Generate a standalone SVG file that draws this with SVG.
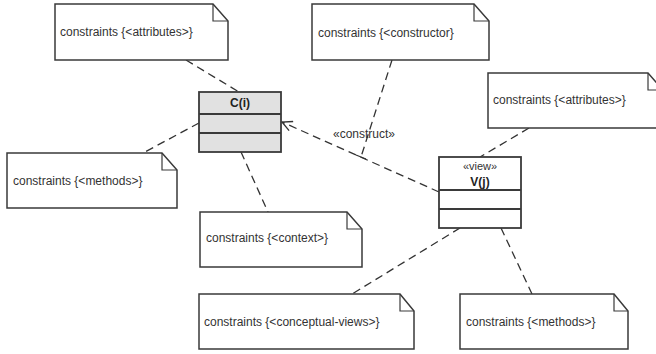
<svg xmlns="http://www.w3.org/2000/svg" width="656" height="354" viewBox="0 0 656 354">
  <style>
    .note { fill: #ffffff; stroke: #3a3a3a; stroke-width: 1.5; stroke-linejoin: miter; }
    .fold { fill: none; stroke: #3a3a3a; stroke-width: 1.2; }
    .box { stroke: #3a3a3a; stroke-width: 1.8; }
    .div { stroke: #3a3a3a; stroke-width: 1.8; }
    .txt { font-family: "Liberation Sans", Arial, sans-serif; font-size: 12px; fill: #333333; }
    .title { font-family: "Liberation Sans", Arial, sans-serif; font-size: 12px; font-weight: bold; fill: #222222; text-anchor: middle; }
    .stereo { font-family: "Liberation Sans", Arial, sans-serif; font-size: 11px; fill: #333333; text-anchor: middle; }
    .link { fill: none; stroke: #333333; stroke-width: 1.3; stroke-dasharray: 8 5; }
  </style>
  <defs>
    <marker id="openArrow" viewBox="0 0 12 12" refX="11" refY="6" markerWidth="12" markerHeight="12" markerUnits="userSpaceOnUse" orient="auto">
      <path d="M1,1 L11,6 L1,11" fill="none" stroke="#333333" stroke-width="1.3"/>
    </marker>
  </defs>

  <rect width="656" height="354" fill="#ffffff"/>

  <!-- connectors -->
  <g id="connectors">
    <line class="link" x1="186" y1="60" x2="239" y2="92"/>
    <line class="link" x1="199" y1="123" x2="143" y2="153"/>
    <line class="link" x1="241" y1="152" x2="268" y2="212"/>
    <line class="link" x1="439" y1="192" x2="282" y2="122" marker-end="url(#openArrow)"/>
    <line class="link" x1="392" y1="60" x2="361" y2="157"/>
    <line x1="356" y1="155" x2="366" y2="159" stroke="#333333" stroke-width="1.3"/>
    <line class="link" x1="529" y1="128" x2="480" y2="157"/>
    <line class="link" x1="460" y1="228" x2="352" y2="294"/>
    <line class="link" x1="501" y1="228" x2="532" y2="294"/>
    <text class="txt" x="333" y="138">«construct»</text>
  </g>

  <!-- notes -->
  <g id="note-attributes-c">
    <path class="note" d="M55,4 H213 L228,21 V60 H55 Z"/>
    <path class="fold" d="M213,4 V21 H228"/>
    <text class="txt" x="60" y="36">constraints {&lt;attributes&gt;}</text>
  </g>
  <g id="note-constructor">
    <path class="note" d="M312,4 H474 L489,21 V60 H312 Z"/>
    <path class="fold" d="M474,4 V21 H489"/>
    <text class="txt" x="318" y="37">constraints {&lt;constructor}</text>
  </g>
  <g id="note-attributes-v">
    <path class="note" d="M488,73 H648 L663,90 V128 H488 Z"/>
    <path class="fold" d="M648,73 V90 H663"/>
    <text class="txt" x="493" y="104">constraints {&lt;attributes&gt;}</text>
  </g>
  <g id="note-methods-c">
    <path class="note" d="M7,153 H162 L177,170 V208 H7 Z"/>
    <path class="fold" d="M162,153 V170 H177"/>
    <text class="txt" x="13" y="185">constraints {&lt;methods&gt;}</text>
  </g>
  <g id="note-context">
    <path class="note" d="M200,212 H347 L362,229 V267 H200 Z"/>
    <path class="fold" d="M347,212 V229 H362"/>
    <text class="txt" x="206" y="242">constraints {&lt;context&gt;}</text>
  </g>
  <g id="note-conceptual-views">
    <path class="note" d="M199,294 H400 L414,311 V349 H199 Z"/>
    <path class="fold" d="M400,294 V311 H414"/>
    <text class="txt" x="204" y="326">constraints {&lt;conceptual-views&gt;}</text>
  </g>
  <g id="note-methods-v">
    <path class="note" d="M460,294 H614 L628,311 V349 H460 Z"/>
    <path class="fold" d="M614,294 V311 H628"/>
    <text class="txt" x="466" y="326">constraints {&lt;methods&gt;}</text>
  </g>

  <!-- classes -->
  <g id="class-c">
    <rect class="box" x="199" y="92" width="82" height="60" fill="#e1e1e1"/>
    <line class="div" x1="199" y1="114" x2="281" y2="114"/>
    <line class="div" x1="199" y1="133" x2="281" y2="133"/>
    <text class="title" x="240" y="107">C(i)</text>
  </g>
  <g id="class-v">
    <rect class="box" x="439" y="157" width="82" height="71" fill="#ffffff"/>
    <line class="div" x1="439" y1="190" x2="521" y2="190"/>
    <line class="div" x1="439" y1="209" x2="521" y2="209"/>
    <text class="stereo" x="480" y="170">«view»</text>
    <text class="title" x="480" y="186">V(j)</text>
  </g>
</svg>
